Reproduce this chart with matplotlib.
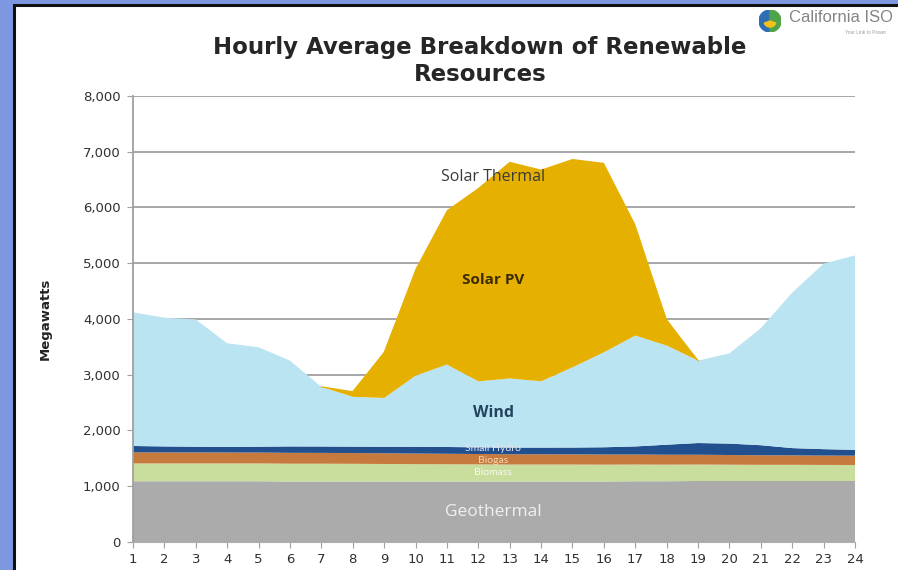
import numpy as np
import matplotlib
matplotlib.use("Agg")
import matplotlib.pyplot as plt
from matplotlib.patches import Rectangle, Wedge

# ——— Data (MW) ———
hours = list(range(1, 25))
geothermal = [1085, 1085, 1085, 1085, 1085, 1080, 1080, 1080, 1080, 1080, 1080, 1080,
              1080, 1080, 1080, 1080, 1085, 1085, 1090, 1090, 1090, 1090, 1090, 1090]
biomass = [320, 320, 320, 320, 320, 320, 320, 318, 315, 312, 310, 308,
           305, 305, 305, 303, 300, 298, 295, 292, 290, 290, 288, 287]
biogas = [198, 198, 197, 196, 195, 195, 194, 193, 192, 190, 188, 186,
          185, 184, 183, 182, 180, 178, 176, 174, 172, 170, 168, 167]
small_hydro = [115, 107, 103, 100, 105, 115, 115, 115, 118, 122, 122, 120,
               120, 120, 122, 130, 145, 180, 210, 205, 180, 130, 115, 105]
wind = [2400, 2310, 2285, 1860, 1785, 1540, 1070, 895, 875, 1275, 1480, 1185,
        1240, 1190, 1440, 1705, 1990, 1780, 1480, 1620, 2100, 2790, 3330, 3490]
solar_pv = [0, 0, 0, 0, 0, 0, 0, 90, 810, 1860, 2660, 3320,
            3720, 3630, 3570, 3240, 1880, 440, 0, 0, 0, 0, 0, 0]
solar_thermal = [0, 0, 0, 0, 0, 0, 0, 0, 20, 60, 110, 150,
                 170, 170, 170, 160, 120, 40, 0, 0, 0, 0, 0, 0]

series = [geothermal, biomass, biogas, small_hydro, wind, solar_pv, solar_thermal]
colors = ["#ABABAB", "#C9DD9C", "#C77A3D", "#22508E", "#BAE4F1", "#E6B000", "#E6B000"]

W, H = 898, 570
fig = plt.figure(figsize=(W / 100, H / 100), dpi=100)
fig.patch.set_facecolor("#7D98E0")

# background layer: white slide panel with dark border
bg = fig.add_axes([0, 0, 1, 1], zorder=-10)
bg.set_xlim(0, W)
bg.set_ylim(H, 0)
bg.axis("off")
bg.add_patch(Rectangle((14, 5), W, H, facecolor="white",
                       edgecolor="#111111", linewidth=2.2))

ax = fig.add_axes([133 / W, (H - 541.7) / H, (855 - 133) / W, (541.7 - 96) / H])
ax.set_facecolor("none")
ax.stackplot(hours, *series, colors=colors, linewidth=0, zorder=2)

# paint over the antialiasing seam between the two solar layers
pv_top = np.sum(series[:6], axis=0)
nz = np.nonzero(solar_pv)[0]
lo, hi = max(nz[0] - 1, 0), min(nz[-1] + 2, len(hours))
ax.plot(hours[lo:hi], pv_top[lo:hi], color=colors[5], linewidth=0.9, zorder=3)

ax.set_xlim(1, 24)
ax.set_ylim(0, 8000)
ax.set_xticks(hours)
ax.set_yticks(range(0, 8001, 1000))
ax.set_yticklabels([f"{v:,}" for v in range(0, 8001, 1000)])
ax.yaxis.grid(True, color="#A0A0A0", linewidth=1.3, zorder=1)
ax.set_axisbelow(True)
for s in ["top", "right"]:
    ax.spines[s].set_visible(False)
ax.spines["left"].set_color("#A0A0A0")
ax.spines["left"].set_linewidth(1.3)
ax.spines["bottom"].set_color("#B0B0B0")
ax.tick_params(axis="both", colors="#A0A0A0", labelcolor="#303030", labelsize=9.5,
               length=4)
for lab in ax.get_xticklabels() + ax.get_yticklabels():
    lab.set_family("DejaVu Sans")
ax.tick_params(axis="x", pad=4)
ax.tick_params(axis="y", pad=5)

ax.set_ylabel("Megawatts", fontsize=9.5, fontweight="bold", family="DejaVu Sans",
              color="#222222", labelpad=22)

fig.text(480 / W, 1 - 61 / H, "Hourly Average Breakdown of Renewable\nResources",
         ha="center", va="center", fontsize=16.5, fontweight="bold",
         family="DejaVu Sans", color="#262626", linespacing=1.25)

# area labels
lab_kw = dict(ha="center", va="center", zorder=5)
ax.text(12.47, 6550, "Solar Thermal", color="#3A3A3A", family="Open Sans",
        fontsize=11.5, **lab_kw)
ax.text(12.47, 4700, "Solar PV", color="#3A2A00", fontweight="bold",
        family="Open Sans", fontsize=11, **lab_kw)
ax.text(12.47, 2310, "Wind", color="#23425E", fontweight="bold",
        family="Open Sans", fontsize=11.5, **lab_kw)
ax.text(12.47, 1680, "Small Hydro", color="#E4E4EC", family="Lato",
        fontsize=7.5, **lab_kw)
ax.text(12.47, 1465, "Biogas", color="#F2D6B8", family="Lato", fontsize=7.5, **lab_kw)
ax.text(12.47, 1240, "Biomass", color="#F6FAEE", family="Lato", fontsize=7.5, **lab_kw)
ax.text(12.47, 540, "Geothermal", color="#F0F0F0", family="Open Sans",
        fontsize=12.5, **lab_kw)

# California ISO logo
r = 11
cx, cy = 770, 21
logo = fig.add_axes([(cx - r) / W, 1 - (cy + r) / H, 2 * r / W, 2 * r / H])
logo.set_xlim(-1, 1)
logo.set_ylim(-1, 1)
logo.axis("off")
logo.add_patch(Wedge((0, 0), 1, 90, 270, color="#2F6DB5"))
logo.add_patch(Wedge((0, 0), 1, 270, 450, color="#4FA34A"))
logo.add_patch(Wedge((0, 0), 0.55, 200, 340, color="#F2C318"))
fig.text(789 / W, 1 - 18 / H, "California ISO", fontsize=12, color="#858585",
         family="Liberation Sans", va="center", ha="left")
fig.text(845 / W, 1 - 32 / H, "Your Link to Power", fontsize=3.5, color="#A0A0A0",
         family="Liberation Sans", va="center", ha="left")

fig.savefig("out.png", dpi=100)
